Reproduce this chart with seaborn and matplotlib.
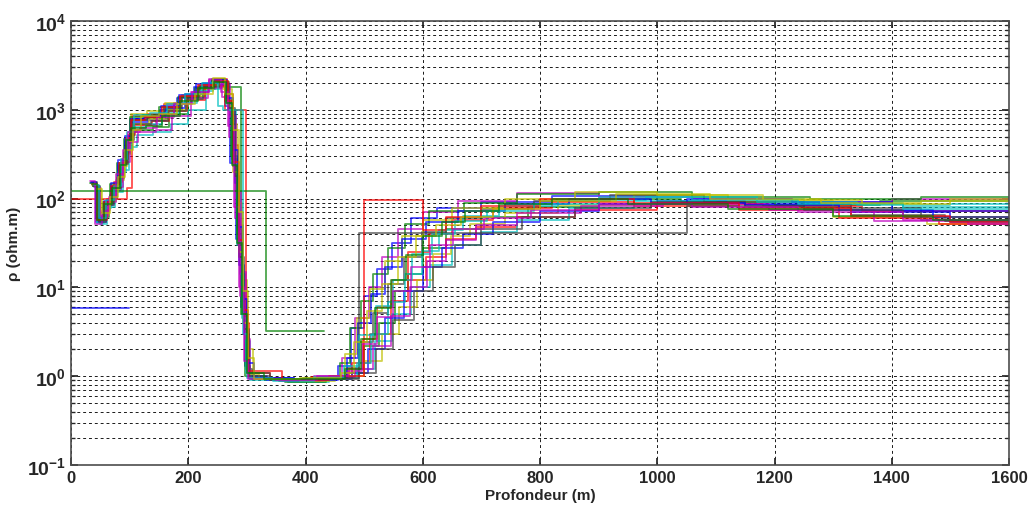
import numpy as np
import pandas as pd
import matplotlib
matplotlib.use("Agg")
import matplotlib.pyplot as plt
import seaborn as sns

# layer tops (last value = bottom of the last layer) and resistivities, one pair per model
depth_01 = [34, 43, 55, 68, 80, 92, 101, 125, 152, 180, 210, 238, 262, 272, 282, 290, 297, 305, 380, 455, 478, 500, 522, 548, 580, 625, 700, 820, 1000, 1150, 1330, 1500, 1600]
rho_01 = [150, 55, 88, 135, 240, 450, 780, 820, 1000, 1350, 1800, 2100, 1100, 250, 35, 6, 1.3, 0.95, 0.9, 1.3, 3.5, 8, 16, 32, 60, 78, 92, 108, 95, 88, 70, 55]

depth_02 = [38, 50, 64, 78, 90, 100, 112, 140, 168, 200, 228, 252, 290, 297, 330, 395, 470, 500, 525, 552, 575, 600, 640, 700, 780, 900, 1040, 1200, 1380, 1600]
rho_02 = [140, 62, 100, 170, 330, 560, 600, 640, 900, 1400, 1950, 1800, 5, 1.0, 0.92, 0.95, 1.1, 2.2, 4, 9, 14, 28, 45, 62, 80, 100, 92, 85, 95]

depth_03 = [0, 95, 104, 130, 158, 186, 215, 245, 266, 276, 285, 293, 300, 340, 410, 480, 510, 545, 575, 605, 640, 690, 760, 860, 1000, 1180, 1350, 1600]
rho_03 = [98, 130, 850, 900, 1150, 1400, 1700, 2200, 1500, 400, 50, 5, 1.1, 0.93, 0.97, 1.4, 3, 7, 12, 22, 35, 48, 62, 75, 88, 82, 72]

depth_04 = [40, 49, 62, 75, 88, 99, 112, 140, 170, 200, 230, 255, 270, 281, 289, 297, 306, 370, 440, 490, 518, 548, 580, 612, 650, 700, 760, 850, 960, 1100, 1250, 1420, 1600]
rho_04 = [135, 52, 80, 120, 210, 380, 520, 560, 700, 1000, 1700, 1950, 1000, 110, 14, 2.5, 0.9, 0.86, 0.95, 1.2, 2.5, 5, 10, 18, 30, 42, 58, 78, 95, 100, 90, 80]

depth_05 = [36, 45, 58, 66, 78, 90, 100, 120, 145, 175, 205, 235, 258, 270, 280, 288, 296, 303, 345, 415, 462, 485, 508, 530, 558, 600, 660, 760, 900, 1060, 1230, 1400, 1600]
rho_05 = [148, 58, 75, 110, 170, 330, 600, 680, 880, 1200, 1600, 2150, 1400, 500, 60, 8, 1.6, 0.95, 0.9, 1.0, 1.6, 4.5, 10, 22, 45, 70, 95, 115, 105, 98, 92, 100]

depth_06 = [42, 51, 64, 77, 90, 103, 130, 160, 190, 215, 238, 260, 274, 284, 292, 300, 310, 380, 450, 500, 530, 560, 590, 618, 648, 680, 740, 830, 960, 1120, 1300, 1460, 1600]
rho_06 = [132, 65, 95, 160, 320, 900, 980, 1200, 1450, 1700, 1900, 1700, 700, 90, 12, 2, 0.92, 0.9, 1.0, 1.5, 3, 6, 12, 24, 38, 52, 68, 85, 110, 95, 62, 52]

depth_07 = [35, 44, 56, 70, 82, 94, 102, 130, 160, 190, 220, 246, 265, 275, 284, 292, 299, 308, 355, 425, 470, 492, 515, 540, 568, 598, 640, 700, 790, 920, 1080, 1250, 1450, 1600]
rho_07 = [155, 56, 90, 140, 230, 420, 760, 800, 1000, 1400, 1850, 2050, 1300, 280, 40, 6, 1.2, 0.93, 0.88, 0.97, 1.25, 2.4, 5.2, 11, 22, 42, 60, 76, 95, 110, 92, 78, 58]

depth_08 = [37, 46, 59, 71, 85, 96, 106, 132, 162, 195, 225, 250, 268, 279, 287, 295, 303, 335, 400, 480, 506, 535, 568, 600, 632, 668, 720, 800, 900, 1050, 1230, 1400, 1600]
rho_08 = [142, 54, 85, 125, 260, 500, 720, 760, 1050, 1500, 2000, 1900, 1000, 150, 18, 3, 1.0, 0.9, 0.92, 1.1, 2, 4.5, 9, 17, 28, 40, 55, 72, 88, 100, 92, 72]

depth_09 = [33, 42, 54, 67, 79, 91, 100, 122, 150, 182, 212, 240, 263, 273, 283, 291, 298, 306, 365, 435, 458, 476, 495, 515, 540, 570, 610, 670, 760, 900, 1060, 1260, 1450, 1600]
rho_09 = [150, 60, 92, 145, 250, 470, 820, 880, 1080, 1380, 1750, 2200, 1250, 300, 45, 7, 1.3, 0.95, 0.87, 0.96, 1.4, 3.5, 7, 14, 28, 52, 72, 90, 112, 118, 104, 98, 105]

depth_10 = [39, 48, 61, 74, 87, 98, 110, 138, 168, 198, 228, 262, 298, 303, 350, 420, 475, 498, 522, 548, 575, 610, 650, 720, 820, 960, 1140, 1310, 1480, 1600]
rho_10 = [138, 57, 98, 155, 280, 520, 680, 740, 960, 1300, 1850, 1000, 4, 0.95, 0.9, 0.96, 1.2, 2.6, 6, 12, 25, 40, 58, 78, 92, 82, 75, 60, 52]

depth_11 = [35, 45, 57, 69, 81, 93, 104, 128, 155, 185, 215, 242, 264, 274, 283, 291, 299, 307, 375, 445, 488, 512, 540, 570, 598, 628, 668, 730, 830, 980, 1170, 1340, 1500, 1600]
rho_11 = [146, 53, 78, 118, 200, 360, 640, 700, 920, 1180, 1650, 2100, 1150, 260, 30, 4.5, 1.1, 0.92, 0.9, 1.0, 1.4, 3, 6.8, 14, 26, 44, 64, 82, 96, 105, 92, 84, 88]

depth_12 = [41, 50, 63, 76, 89, 101, 115, 145, 172, 204, 234, 258, 272, 282, 290, 298, 306, 360, 432, 485, 515, 545, 578, 608, 640, 690, 760, 870, 1010, 1190, 1370, 1530, 1600]
rho_12 = [136, 63, 92, 135, 260, 430, 560, 600, 850, 1350, 1750, 1950, 850, 120, 15, 2.6, 0.95, 0.88, 0.97, 1.2, 2.2, 4.8, 10, 20, 34, 50, 68, 82, 86, 74, 56, 52]

depth_13 = [36, 46, 58, 70, 83, 95, 105, 133, 165, 196, 226, 252, 267, 277, 286, 294, 301, 320, 390, 450, 468, 488, 510, 535, 565, 600, 650, 740, 860, 1000, 1180, 1350, 1500, 1600]
rho_13 = [144, 59, 86, 128, 230, 440, 700, 790, 1000, 1420, 1900, 2100, 1100, 200, 25, 4, 1.05, 0.94, 0.89, 1.0, 1.8, 4.5, 9.5, 20, 38, 58, 78, 100, 118, 110, 96, 88, 100]

depth_14 = [38, 47, 60, 73, 86, 97, 108, 136, 166, 196, 226, 252, 269, 279, 287, 295, 303, 340, 410, 492, 520, 550, 585, 618, 655, 700, 770, 860, 990, 1150, 1330, 1490, 1600]
rho_14 = [140, 55, 84, 130, 245, 460, 690, 750, 980, 1320, 1800, 2050, 1050, 180, 22, 3.4, 1.0, 0.91, 0.94, 1.1, 2, 4.3, 9, 17, 30, 45, 62, 78, 92, 80, 66, 56]

depth_15 = [34, 43, 56, 68, 80, 92, 102, 126, 154, 184, 214, 244, 266, 276, 285, 293, 301, 312, 380, 452, 470, 490, 512, 536, 565, 605, 660, 740, 850, 990, 1150, 1310, 1470, 1600]
rho_15 = [152, 60, 95, 150, 270, 510, 790, 860, 1100, 1450, 1950, 2150, 1350, 350, 48, 7.5, 1.4, 0.96, 0.9, 0.98, 1.6, 4, 8.5, 17, 35, 55, 72, 88, 100, 90, 84, 74, 62]

depth_16 = [37, 46, 58, 71, 84, 95, 104, 130, 158, 188, 218, 247, 266, 276, 285, 293, 300, 340, 420, 491, 1051, 1250, 1420, 1600]
rho_16 = [140, 57, 90, 138, 250, 470, 760, 820, 1050, 1400, 1850, 2050, 1200, 230, 30, 5, 1.1, 0.9, 0.95, 41, 82, 75, 62]

depth_17 = [35, 44, 57, 69, 82, 94, 103, 127, 156, 186, 216, 246, 267, 277, 286, 294, 302, 360, 440, 500, 600, 640, 700, 800, 960, 1140, 1330, 1500, 1600]
rho_17 = [145, 58, 92, 140, 255, 480, 770, 840, 1080, 1420, 1880, 2100, 1250, 260, 34, 5.5, 1.15, 0.9, 1.0, 96, 44, 62, 82, 98, 90, 78, 64, 54]

depth_18 = [0, 333, 432]
rho_18 = [122, 3.2]

depth_19 = [0, 99]
rho_19 = [5.9]

depth_20 = [39, 47, 60, 73, 86, 96, 107, 134, 163, 194, 224, 250, 260, 294, 301, 345, 415, 466, 492, 520, 550, 582, 615, 655, 710, 790, 900, 1060, 1240, 1420, 1600]
rho_20 = [142, 60, 96, 140, 280, 560, 880, 930, 1150, 1500, 2000, 1100, 1000, 3, 0.96, 0.89, 0.98, 1.3, 2.9, 6.2, 12, 24, 40, 56, 72, 88, 104, 96, 88, 76]

depth_21 = [33, 41, 53, 64, 76, 88, 97, 118, 146, 176, 206, 236, 256, 268, 278, 287, 295, 302, 350, 420, 472, 496, 522, 550, 580, 612, 652, 705, 785, 900, 1060, 1240, 1420, 1600]
rho_21 = [158, 52, 72, 105, 190, 350, 560, 620, 820, 1150, 1600, 2250, 1600, 650, 80, 10, 1.5, 0.94, 0.9, 1.0, 1.15, 2.3, 4.6, 9, 17, 30, 45, 60, 75, 88, 80, 70, 58]

depth_22 = [44, 53, 66, 80, 92, 105, 120, 150, 180, 212, 242, 262, 276, 286, 294, 302, 312, 390, 460, 482, 505, 530, 558, 588, 622, 665, 720, 800, 930, 1090, 1280, 1450, 1600]
rho_22 = [128, 68, 105, 175, 350, 600, 860, 900, 1150, 1500, 2300, 1500, 600, 70, 9, 1.6, 0.92, 0.95, 1.1, 2.4, 5.4, 11, 22, 38, 50, 62, 76, 94, 112, 100, 90, 95]

depth_23 = [36, 45, 57, 70, 83, 94, 103, 128, 155, 186, 216, 244, 265, 275, 284, 292, 300, 330, 400, 468, 494, 518, 545, 572, 600, 632, 672, 730, 820, 950, 1120, 1300, 1470, 1600]
rho_23 = [146, 57, 88, 132, 240, 460, 620, 660, 860, 1250, 1750, 2050, 1200, 240, 32, 5, 1.1, 0.92, 0.94, 1.2, 2.6, 5.8, 12, 23, 38, 55, 72, 86, 98, 86, 76, 64, 58]

models = [(depth_01, rho_01), (depth_02, rho_02), (depth_03, rho_03), (depth_04, rho_04),
          (depth_05, rho_05), (depth_06, rho_06), (depth_07, rho_07), (depth_08, rho_08),
          (depth_09, rho_09), (depth_10, rho_10), (depth_11, rho_11), (depth_12, rho_12),
          (depth_13, rho_13), (depth_14, rho_14), (depth_15, rho_15), (depth_16, rho_16),
          (depth_17, rho_17), (depth_18, rho_18), (depth_19, rho_19), (depth_20, rho_20),
          (depth_21, rho_21), (depth_22, rho_22), (depth_23, rho_23)]

# matlab-like colour order
mb, mg, mr, mc = (0, 0, 1), (0, 0.5, 0), (1, 0, 0), (0, 0.75, 0.75)
mm, my, mk = (0.75, 0, 0.75), (0.75, 0.75, 0), (0.25, 0.25, 0.25)
colors = [mb, mg, mr, mc, mm, my, mk, mb, mg, mr, mc, mm, my, mk, mb, mk, mr, mg, mb,
          mc, mm, my, mg]

rows = []
for i, (d, r) in enumerate(models):
    y = list(r) + [r[-1]]
    for x, v in zip(d, y):
        rows.append({"model": i, "depth": x, "rho": v})
df = pd.DataFrame(rows)

sns.set_theme(style="ticks")
plt.rcParams["font.family"] = ["Liberation Sans", "DejaVu Sans"]
plt.rcParams["mathtext.fontset"] = "custom"
plt.rcParams["mathtext.rm"] = "Liberation Sans:bold"
plt.rcParams["mathtext.bf"] = "Liberation Sans:bold"

fig = plt.figure(figsize=(10.35, 5.06), dpi=100)
ax = fig.add_axes([0.0686, 0.079, 0.9063, 0.8775])

sns.lineplot(data=df, x="depth", y="rho", hue="model", palette=dict(enumerate(colors)),
             drawstyle="steps-post", estimator=None, sort=False, legend=False,
             lw=1.3, alpha=0.7, ax=ax)

ax.set_yscale("log")
ax.set_xlim(0, 1600)
ax.set_ylim(0.1, 1e4)
ax.set_xticks(np.arange(0, 1601, 200))
ax.set_xticklabels([str(v) for v in range(0, 1601, 200)], fontweight="bold", fontsize=12)
yt = [0.1, 1, 10, 100, 1000, 10000]
ax.set_yticks(yt)
ax.set_yticklabels([r"$\mathbf{10^{%d}}$" % k for k in range(-1, 5)], fontsize=14)

ax.grid(True, which="major", axis="x", color="k", ls=(0, (3, 3)), lw=0.7)
ax.grid(True, which="both", axis="y", color="k", ls=(0, (3, 3)), lw=0.7)
ax.tick_params(which="both", direction="in", top=True, right=True)
ax.tick_params(which="major", length=5)
ax.tick_params(which="minor", length=3)
for s in ax.spines.values():
    s.set_color("0.3")
    s.set_linewidth(1.2)

ax.set_xlabel("Profondeur (m)", fontweight="bold", fontsize=11, labelpad=2)
ax.set_ylabel("ρ (ohm.m)", fontweight="bold", fontsize=11, labelpad=4)

fig.savefig("out.png", dpi=100)
